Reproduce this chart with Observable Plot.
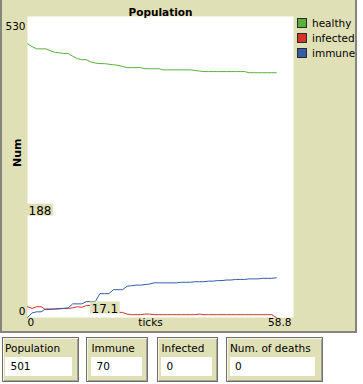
<!DOCTYPE html>
<html><head><meta charset="utf-8">
<script src="https://cdn.jsdelivr.net/npm/d3@7"></script>
<script src="https://cdn.jsdelivr.net/npm/@observablehq/plot@0.6"></script>
<style>
body{margin:0;background:#fff;font-family:"DejaVu Sans",sans-serif;}
#wrap{position:relative;width:363px;height:384px;overflow:hidden;}
#panel{position:absolute;left:0;top:0;width:353px;height:331px;background:#e0e0b7;border-left:2px solid #85857d;border-right:2px solid #85857d;border-bottom:2px solid #85857d;}
#chart{position:absolute;left:0;top:0;}
#legend{position:absolute;left:297px;top:18px;font-size:10.5px;color:#000;}
#legend .row{height:15px;display:flex;align-items:flex-start;white-space:nowrap;}
#legend .sw{width:8px;height:8px;border:1px solid #2a2a2a;margin-right:5px;flex:none;}
#legend .lb{line-height:10px;margin-top:0px;}
.mon{position:absolute;top:337px;height:43px;background:#e0e0b7;border:1px solid #6f6f6f;box-shadow:inset 1px 1px 0 #f6f6e6,inset -1px -1px 0 #a6a696;}
.mlab{position:absolute;top:342px;font-size:10.5px;line-height:12px;color:#000;white-space:nowrap;}
.mval{position:absolute;top:357px;height:19px;background:#fff;font-size:10.5px;line-height:19px;color:#000;}
</style></head>
<body><div id="wrap"><div id="panel"></div><div id="chart"></div><div id="legend"></div></div>
<script>
// ---- data ----
const ticks = [0,1,2,3,4,5,6,7,8,9,10,11,12,13,14,15,16,17,18,19,20,21,22,23,24,25,26,27,28,29,30,31,32,33,34,35,36,37,38,39,40,41,42,43,44,45,46,47,48,49,50,51,52,53,54,55];
const healthy = [482,477,473,473,473,470,467,466,465,465,460,456,454,454,450,448,447,447,446,445,444,442,440,440,440,440,438,438,438,438,436,436,436,436,436,436,436,435,434,433,433,433,433,433,433,433,433,433,433,431,431,431,431,431,431,431];
const infected = [19,16,19,19,14,14,15,15,16,16,17,19,18,21,21,22,11,10,10,9,9,9,6,5,5,5,6,6,5,5,5,5,5,5,5,5,5,5,6,5,5,5,5,5,5,5,5,5,5,5,5,5,5,5,5,0];
const immune = [0,8,10,10,15,15,15,16,16,17,24,24,24,28,28,28,42,42,42,49,49,49,55,56,57,57,58,59,61,61,61,61,61,61,62,62,62,63,63,63,64,64,65,65,66,66,67,67,67,68,68,68,69,69,69,70];
const seriesNames = ["healthy","infected","immune"];
const seriesColors = ["#59b03c","#d73229","#345da9"];
const xDomain = [0, 58.8];
const yDomain = [0, 530];
const xTickLabels = ["0","58.8"];
const yTickLabels = ["530","0"];
const title = "Population";
const xLabel = "ticks";
const yLabel = "Num";
const hoverX = 17.1;
const hoverY = 188;
const monitorLabels = ["Population","Immune","Infected","Num. of deaths"];
const monitorValues = ["501","70","0","0"];

// ---- build table ----
const seriesValues = [healthy, infected, immune];
const rows = [];
seriesNames.forEach((s, k) => ticks.forEach((t, i) => rows.push({tick: t, series: s, value: seriesValues[k][i]})));

const chart = Plot.plot({
  width: 357, height: 332,
  marginLeft: 27, marginRight: 64, marginTop: 16, marginBottom: 15,
  style: {background: "transparent", fontFamily: "DejaVu Sans", fontSize: "10.5px", color: "#000", overflow: "visible"},
  x: {domain: xDomain, axis: null},
  y: {domain: yDomain, axis: null},
  color: {domain: seriesNames, range: seriesColors},
  marks: [
    Plot.frame({fill: "white", stroke: null}),
    Plot.line(rows, {x: "tick", y: "value", z: "series", stroke: "series", strokeWidth: 1}),
    Plot.text([title], {frameAnchor: "top", dy: -8, fontWeight: "bold", fontSize: 10.5, fill: "#000"}),
    Plot.text([yLabel], {frameAnchor: "left", rotate: -90, dx: -10, fontWeight: "bold", fontSize: 11, fill: "#000"}),
    Plot.text([xLabel], {frameAnchor: "bottom", dy: 8, dx: -10, fill: "#000"}),
    Plot.text([xTickLabels[0]], {x: [xDomain[0]], frameAnchor: "bottom", dy: 8, textAnchor: "start", fill: "#000"}),
    Plot.text([xTickLabels[1]], {x: [xDomain[1]], frameAnchor: "bottom", dy: 8, dx: -2, textAnchor: "end", fill: "#000"}),
    Plot.text([yTickLabels[0]], {y: [yDomain[1]], frameAnchor: "left", dy: 10, dx: -2, textAnchor: "end", fill: "#000"}),
    Plot.text([yTickLabels[1]], {y: [yDomain[0]], frameAnchor: "left", dy: -5.5, dx: -2, textAnchor: "end", fill: "#000"}),
    Plot.text([String(hoverY)], {x: [xDomain[0]], y: [hoverY], dx: 1, textAnchor: "start", fontSize: 12, fill: "#000"}),
    Plot.text([String(hoverX)], {x: [hoverX], frameAnchor: "bottom", dy: -5, dx: 0, textAnchor: "middle", fontSize: 12, fill: "#000"})
  ]
});
document.getElementById("chart").appendChild(chart);

// beige backgrounds behind the hover read-outs
const hoverTexts = [String(hoverY), String(hoverX)];
Array.from(chart.querySelectorAll("text")).filter(t => hoverTexts.includes(t.textContent)).forEach(t => {
  const bb = t.getBBox();
  const r = document.createElementNS("http://www.w3.org/2000/svg", "rect");
  r.setAttribute("x", bb.x - 1.5);
  r.setAttribute("y", bb.y);
  r.setAttribute("width", bb.width + 3);
  r.setAttribute("height", bb.height - 2);
  r.setAttribute("fill", "#e0e0b7");
  const tr = t.getAttribute("transform");
  if (tr) r.setAttribute("transform", tr);
  t.parentNode.insertBefore(r, t);
});

// legend
const lg = document.getElementById("legend");
seriesNames.forEach((s, i) => {
  const row = document.createElement("div"); row.className = "row";
  const sw = document.createElement("div"); sw.className = "sw"; sw.style.background = seriesColors[i];
  const lb = document.createElement("div"); lb.className = "lb"; lb.textContent = s;
  row.appendChild(sw); row.appendChild(lb); lg.appendChild(row);
});

// monitors
const boxes = [[2,79,5,72,5,10.5],[86,148,91,142,91.5,96.5],[157,218,161,212,161.5,166.5],[226,323,230,315,230,235]];
const wrap = document.getElementById("wrap");
monitorLabels.forEach((lab, i) => {
  const [l, r, wl, wr, lx, vx] = boxes[i];
  const box = document.createElement("div"); box.className = "mon";
  box.style.left = l + "px"; box.style.width = (r - l - 2) + "px";
  wrap.appendChild(box);
  const la = document.createElement("div"); la.className = "mlab";
  la.style.left = lx + "px"; la.textContent = lab; wrap.appendChild(la);
  const v = document.createElement("div"); v.className = "mval";
  v.style.left = wl + "px"; v.style.width = (wr - wl - (vx - wl)) + "px"; v.style.paddingLeft = (vx - wl) + "px";
  v.textContent = monitorValues[i]; wrap.appendChild(v);
});
</script></body></html>
